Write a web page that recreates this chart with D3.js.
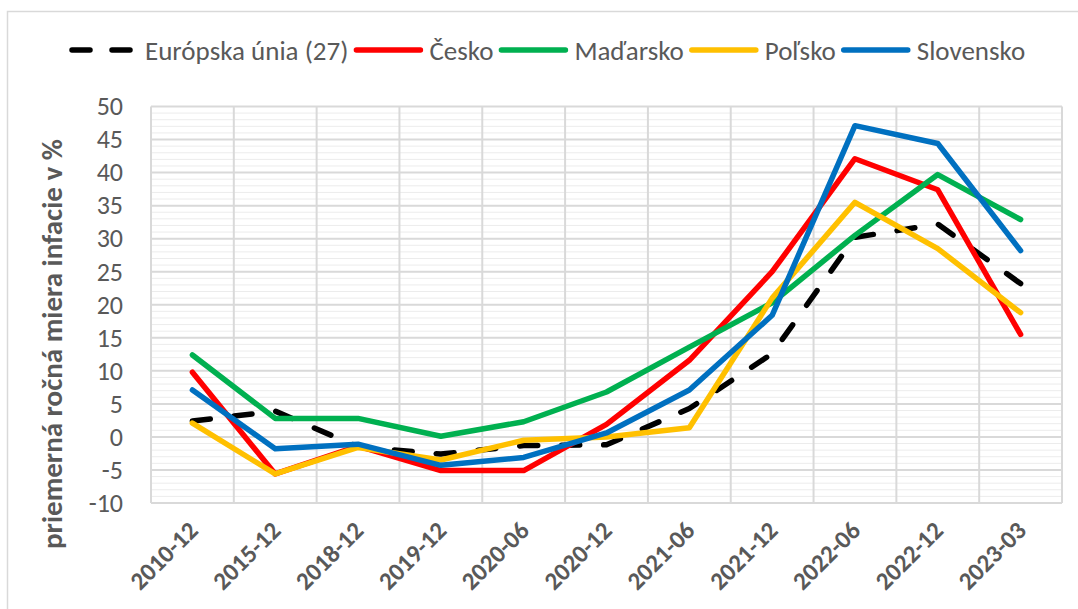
<!DOCTYPE html>
<html>
<head>
<meta charset="utf-8">
<script src="https://cdn.jsdelivr.net/npm/d3@7"></script>
<style>
  body { margin: 0; background: #fff; }
  text { font-family: Carlito, Lato, sans-serif; fill: #595959; }
</style>
</head>
<body>
<div id="chart"></div>
<script>
// categories (months) and yearly average inflation per country
var categories = ["2010-12","2015-12","2018-12","2019-12","2020-06","2020-12","2021-06","2021-12","2022-06","2022-12","2023-03"];
var euValues = [2.4, 3.9, -1.5, -2.6, -1.3, -1.2, 4.3, 12.6, 30.2, 32.2, 23.2];
var czValues = [9.8, -5.6, -1.4, -5.1, -5.1, 1.9, 11.6, 25.0, 42.1, 37.4, 15.5];
var huValues = [12.4, 2.8, 2.8, 0.1, 2.3, 6.8, 13.6, 20.3, 30.5, 39.7, 32.9];
var plValues = [2.1, -5.6, -1.6, -3.5, -0.5, 0.0, 1.4, 21.0, 35.5, 28.5, 18.8];
var skValues = [7.1, -1.8, -1.1, -4.3, -3.1, 0.6, 7.1, 18.4, 47.1, 44.4, 28.2];
var seriesNames = ["Európska únia (27)", "Česko", "Maďarsko", "Poľsko", "Slovensko"];
var yTicks = [-10, -5, 0, 5, 10, 15, 20, 25, 30, 35, 40, 45, 50];
var yTitle = "priemerná ročná miera infacie v %";

var series = [
    {name: seriesNames[0], values: euValues, color: "#000000", dash: "18,24"},
    {name: seriesNames[1], values: czValues, color: "#FF0000", dash: null},
    {name: seriesNames[2], values: huValues, color: "#00B050", dash: null},
    {name: seriesNames[3], values: plValues, color: "#FFC000", dash: null},
    {name: seriesNames[4], values: skValues, color: "#0070C0", dash: null}
];

var width = 1078,
    height = 609;
var plot = {left: 151, right: 1062, top: 106.5, bottom: 503};

var svg = d3.select("#chart").append("svg")
    .attr("width", width)
    .attr("height", height);

// outer chart frame
svg.append("rect")
    .attr("x", 7.5).attr("y", 11.5)
    .attr("width", width + 10).attr("height", height + 10)
    .attr("fill", "none")
    .attr("stroke", "#d9d9d9")
    .attr("stroke-width", 1.5);

var x = d3.scaleBand().domain(categories).range([plot.left, plot.right]);
var y = d3.scaleLinear().domain([-10, 50]).range([plot.bottom, plot.top]);
function cx(c){ return x(c) + x.bandwidth() / 2; }

/* Gridlines: light minor ones every unit, darker major ones every 5 */
var minor = d3.range(-10, 51, 1).filter(function(v){ return v % 5 != 0; });
svg.append("g").selectAll("line")
    .data(minor).enter().append("line")
    .attr("x1", plot.left).attr("x2", plot.right)
    .attr("y1", function(d){ return y(d); })
    .attr("y2", function(d){ return y(d); })
    .attr("stroke", "#ececec")
    .attr("stroke-width", 1);
svg.append("g").selectAll("line")
    .data(yTicks).enter().append("line")
    .attr("x1", plot.left).attr("x2", plot.right)
    .attr("y1", function(d){ return y(d); })
    .attr("y2", function(d){ return y(d); })
    .attr("stroke", "#d9d9d9")
    .attr("stroke-width", 2);
svg.append("g").selectAll("line")
    .data(categories.concat(["end"])).enter().append("line")
    .attr("x1", function(d){ return d == "end" ? plot.right : x(d); })
    .attr("x2", function(d){ return d == "end" ? plot.right : x(d); })
    .attr("y1", plot.top).attr("y2", plot.bottom)
    .attr("stroke", "#d9d9d9")
    .attr("stroke-width", 2);

// y axis labels (plain hyphen for negatives, like the original)
var yAxis = svg.append("g")
    .attr("transform", "translate(" + plot.left + ",0)")
    .call(d3.axisLeft(y).tickValues(yTicks).tickSize(0).tickPadding(28)
        .tickFormat(function(d){ return String(d); }));
yAxis.select(".domain").remove();
yAxis.selectAll("text")
    .style("font-size", "26px")
    .style("font-family", "Carlito, Lato, sans-serif")
    .attr("fill", "#595959");

// x axis labels, rotated
var xAxis = svg.append("g")
    .attr("transform", "translate(0," + plot.bottom + ")")
    .call(d3.axisBottom(x).tickSize(0));
xAxis.select(".domain").remove();
xAxis.selectAll("text")
    .style("font-size", "25px")
    .style("font-weight", "bold")
    .style("font-family", "Carlito, Lato, sans-serif")
    .attr("fill", "#595959")
    .attr("text-anchor", "end")
    .attr("dy", null)
    .attr("y", 0)
    .attr("transform", "translate(7,29) rotate(-45)");

// y axis title
svg.append("text")
    .attr("transform", "translate(62,344) rotate(-90)")
    .attr("text-anchor", "middle")
    .style("font-size", "29px")
    .style("font-weight", "bold")
    .text(yTitle);

/* Lines */
var line = d3.line()
    .x(function(d, i){ return cx(categories[i]); })
    .y(function(d){ return y(d); });
svg.append("g").selectAll("path")
    .data(series).enter().append("path")
    .attr("d", function(d){ return line(d.values); })
    .attr("fill", "none")
    .attr("stroke", function(d){ return d.color; })
    .attr("stroke-width", 5.5)
    .attr("stroke-linecap", "round")
    .attr("stroke-linejoin", "round")
    .attr("stroke-dasharray", function(d){ return d.dash; });

/* Legend, laid out left to right */
var legend = svg.append("g").attr("transform", "translate(0,50)");
var lx = 72;
series.forEach(function(s){
    legend.append("line")
        .attr("x1", lx).attr("x2", lx + 64)
        .attr("y1", 0).attr("y2", 0)
        .attr("stroke", s.color)
        .attr("stroke-width", 5.5)
        .attr("stroke-linecap", "round")
        .attr("stroke-dasharray", s.dash ? "18,22" : null);
    lx += 64 + 9;
    var t = legend.append("text")
        .attr("x", lx).attr("y", 9.5)
        .style("font-size", "27px")
        .text(s.name);
    lx += t.node().getComputedTextLength() + 8;
});
</script>
</body>
</html>
